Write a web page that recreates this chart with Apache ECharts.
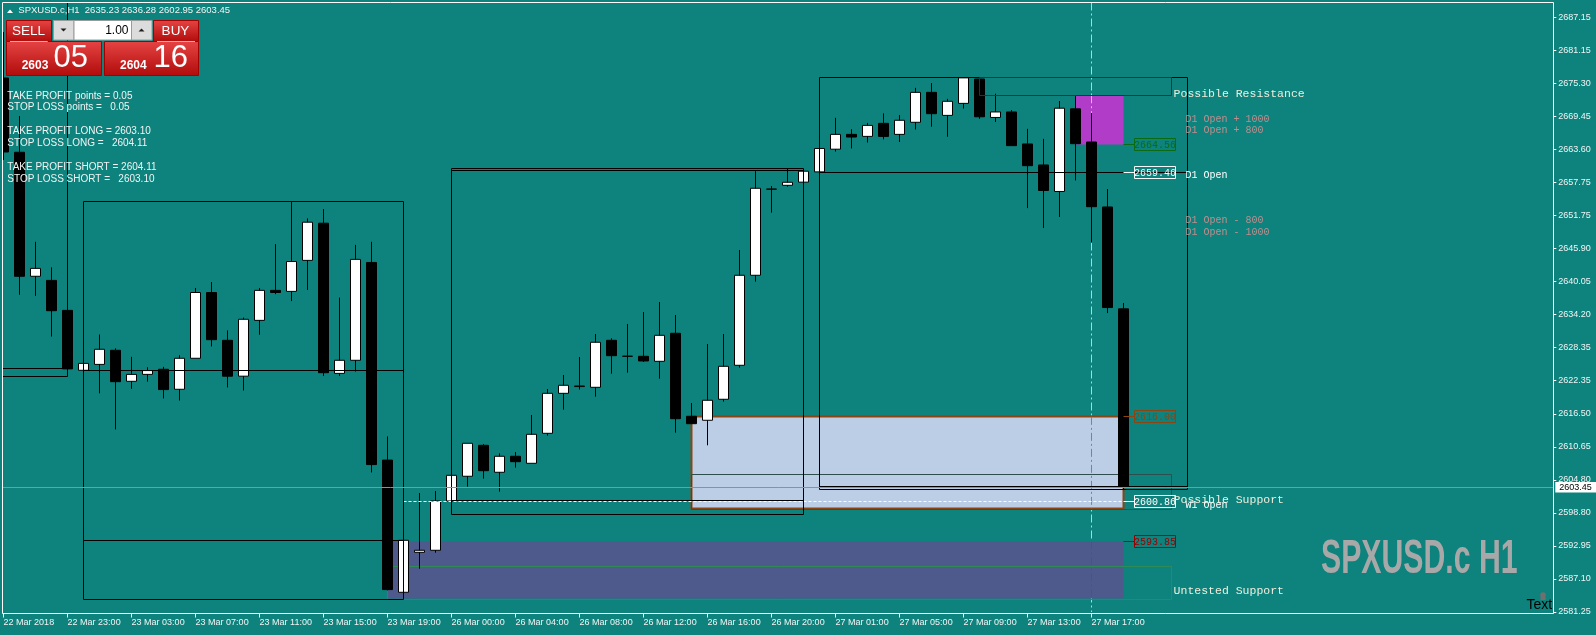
<!DOCTYPE html>
<html>
<head>
<meta charset="utf-8">
<title>SPXUSD.c H1</title>
<script src="https://cdn.jsdelivr.net/npm/echarts@6/dist/echarts.min.js"></script>
<style>
  html, body { margin: 0; padding: 0; background: #0e837d; overflow: hidden; }
  #chart { width: 1596px; height: 635px; }
</style>
</head>
<body>
<div id="chart"></div>
<script>
// ---------- data ----------
const timeLabels = ['22 Mar 2018', '22 Mar 23:00', '23 Mar 03:00', '23 Mar 07:00', '23 Mar 11:00',
  '23 Mar 15:00', '23 Mar 19:00', '26 Mar 00:00', '26 Mar 04:00', '26 Mar 08:00', '26 Mar 12:00',
  '26 Mar 16:00', '26 Mar 20:00', '27 Mar 01:00', '27 Mar 05:00', '27 Mar 09:00', '27 Mar 13:00',
  '27 Mar 17:00'];

const priceTickLabels = ['2581.25', '2587.10', '2592.95', '2598.80', '2604.80', '2610.65', '2616.50',
  '2622.35', '2628.35', '2634.20', '2640.05', '2645.90', '2651.75', '2657.75', '2663.60', '2669.45',
  '2675.30', '2681.15', '2687.15'];

// H1 bars, oldest first
const barOpen = [2676.34, 2663.11, 2641.03, 2640.30, 2634.96, 2624.29, 2625.34, 2627.85, 2622.33, 2623.56,
  2624.47, 2620.91, 2626.43, 2638.14, 2629.63, 2623.24, 2633.18, 2638.52, 2638.34, 2643.86,
  2650.48, 2623.74, 2626.07, 2643.49, 2608.30, 2584.76, 2591.88, 2592.24, 2601.02, 2605.42,
  2610.93, 2606.13, 2608.98, 2607.73, 2613.07, 2620.19, 2621.39, 2621.26, 2629.63, 2626.78,
  2626.78, 2625.89, 2630.88, 2616.10, 2615.39, 2619.13, 2625.18, 2641.21, 2656.52, 2657.23,
  2657.79, 2659.62, 2663.66, 2666.30, 2665.94, 2668.26, 2666.30, 2668.45, 2673.78, 2669.68,
  2671.82, 2676.16, 2669.31, 2670.29, 2664.59, 2660.85, 2656.13, 2670.84, 2664.94, 2653.37,
  2635.23];
const barHigh = [2684.53, 2669.56, 2647.17, 2642.63, 2635.74, 2625.52, 2630.67, 2628.21, 2626.68, 2624.84,
  2624.90, 2626.98, 2638.95, 2640.00, 2631.40, 2633.68, 2638.95, 2646.75, 2654.35, 2651.34,
  2653.00, 2637.24, 2646.62, 2647.17, 2612.52, 2594.02, 2602.44, 2602.80, 2605.59, 2611.29,
  2611.17, 2609.51, 2609.74, 2616.33, 2620.96, 2623.45, 2626.66, 2630.75, 2629.99, 2632.54,
  2634.67, 2636.45, 2634.14, 2618.47, 2628.97, 2630.75, 2645.71, 2659.73, 2657.11, 2660.26,
  2659.74, 2663.79, 2669.24, 2667.22, 2668.33, 2670.04, 2669.73, 2674.58, 2675.43, 2672.62,
  2676.52, 2676.52, 2673.54, 2670.64, 2667.28, 2665.50, 2672.24, 2673.17, 2670.11, 2656.56,
  2636.28];
const barLow = [2661.74, 2637.73, 2637.54, 2630.29, 2624.34, 2624.29, 2620.18, 2613.75, 2620.98, 2622.26,
  2619.27, 2618.90, 2626.43, 2628.53, 2621.23, 2620.68, 2630.61, 2637.84, 2636.61, 2638.59,
  2623.26, 2623.26, 2624.06, 2606.09, 2585.10, 2584.76, 2588.96, 2591.81, 2601.02, 2603.56,
  2604.99, 2602.67, 2606.95, 2607.73, 2612.64, 2617.27, 2620.84, 2619.59, 2623.68, 2623.86,
  2625.77, 2622.79, 2613.18, 2614.78, 2610.93, 2618.70, 2624.75, 2640.07, 2652.35, 2656.98,
  2657.79, 2659.62, 2663.23, 2663.79, 2664.84, 2665.39, 2664.94, 2667.15, 2667.65, 2665.87,
  2670.89, 2669.06, 2668.51, 2664.25, 2653.17, 2649.63, 2651.59, 2658.09, 2647.05, 2634.48,
  2602.95];
const barClose = [2663.16, 2641.03, 2642.44, 2634.90, 2624.54, 2625.52, 2628.03, 2622.26, 2623.56, 2624.24,
  2620.85, 2626.43, 2638.14, 2629.74, 2623.24, 2633.37, 2638.52, 2638.14, 2643.66, 2650.66,
  2623.86, 2626.07, 2644.04, 2607.50, 2585.24, 2594.02, 2592.24, 2601.02, 2605.59, 2611.29,
  2606.41, 2608.98, 2608.01, 2612.89, 2620.19, 2621.62, 2621.49, 2629.28, 2626.89, 2626.80,
  2625.95, 2630.52, 2615.67, 2614.78, 2618.95, 2625.00, 2641.21, 2656.70, 2656.57, 2657.77,
  2659.74, 2663.79, 2666.30, 2665.82, 2667.90, 2665.94, 2668.81, 2673.78, 2669.98, 2672.19,
  2676.36, 2669.43, 2670.29, 2664.29, 2660.72, 2656.31, 2670.96, 2664.64, 2653.42, 2635.46,
  2603.45];

const lastPrice = 2603.45;
const d1Open = 2659.46;
const w1Open = 2600.86;

// zones: [fromBar, toBar, low, high]
const untestedFill   = [24, 70, 2583.57, 2593.85];
const supportFill    = [43, 70, 2599.72, 2616.00];
const resistanceFill = [67, 70, 2664.56, 2673.26];
const resistanceBox  = [61, 73, 2673.26, 2676.36];
const supportBox     = [43, 73, 2599.59, 2605.77];
const untestedBox    = [24, 73, 2583.51, 2589.44];
// session ranges: [fromBar, toBar, low, high]
const rangeBoxes = [[-1, 4, 2623.13, 2695.00], [5, 25, 2583.51, 2654.35],
  [28, 50, 2598.65, 2660.26], [51, 74, 2603.10, 2676.36]];
// horizontal levels: [fromBar, toBar, price]
const rangeLines = [[-1, 4, 2624.54], [5, 25, 2624.29], [5, 25, 2594.02], [28, 50, 2659.78],
  [28, 50, 2601.02], [51, 74, 2603.56], [51, 74, d1Open]];
const w1Line = [25, 70, w1Open];
const markerBar = 68;          // 27 Mar 17:00
const tagBar = 70;
const tagLevels = [2664.56, d1Open, 2616.00, w1Open, 2593.85];
const textBar = 73;
const levelTextNames = ['Possible Resistance', 'Possible Support', 'Untested Support',
  'D1 Open + 1000', 'D1 Open + 800', 'D1 Open', 'D1 Open - 800', 'D1 Open - 1000', 'W1 Open'];
const levelTextPrices = [2673.49, 2601.19, 2584.94,
  d1Open + 10, d1Open + 8, d1Open, d1Open - 8, d1Open - 10, w1Open];

const symbolTitle = 'SPXUSD.c,H1  2635.23 2636.28 2602.95 2603.45';
const panelLines = ['TAKE PROFIT points = 0.05', 'STOP LOSS points =   0.05', '',
  'TAKE PROFIT LONG = 2603.10', 'STOP LOSS LONG =   2604.11', '',
  'TAKE PROFIT SHORT = 2604.11', 'STOP LOSS SHORT =   2603.10'];

// ---------- axis setup ----------
const PRICE_MIN = 2581.25;
const PRICE_STEP = (2687.15 - 2581.25) / 18;
const PRICE_MAX = 2689.78;
const SLOT_COUNT = 97;

// ---------- styles ----------
const BG = '#0e837d';
const TXT = '#f2f4f4';
const MONO = '"Liberation Mono", "DejaVu Sans Mono", monospace';
const SANS = '"Liberation Sans", Arial, sans-serif';
const GRID_LEFT = 3.6, BAR_STEP = 16, AXIS_X = 1553.3;
const GRID_RIGHT = 1596 - (GRID_LEFT + BAR_STEP * (SLOT_COUNT - 1));
const Y_AXIS_OFFSET = AXIS_X - (1596 - GRID_RIGHT);
const FILL_STYLES = [
  { fill: '#4e598c' },
  { fill: '#bccee6', stroke: '#8b4513', lineWidth: 2 },
  { fill: '#b03cc8' }
];
const TAG_COLORS = ['#0b6b12', '#f4f8f8', '#8b4513', '#ffffff', '#9a0000'];
const VLINE_DASH = [8, 3, 2, 3];
const LEVEL_TEXT_STYLES = levelTextNames.map((n, i) => {
  if (i < 3) return { dx: 2, dy: 0, color: '#eeeedd', font: '11.5px ' + MONO };
  if (n === 'D1 Open' || n === 'W1 Open') return { dx: 14, dy: 3, color: '#ffffff', font: '10px ' + MONO };
  return { dx: 14, dy: 3, color: '#bc8f8f', font: '10px ' + MONO };
});

const crisp = v => Math.round(v - 0.5) + 0.5;

const slots = Array.from({ length: SLOT_COUNT }, (_, i) => String(i));
const candles = barOpen.map((o, i) => [o, barClose[i], barLow[i], barHigh[i]]);
const showTime = i => i % 4 === 0 && i / 4 < timeLabels.length;

function rectOf(api) {
  const a = api.coord([api.value(0), api.value(3)]);
  const b = api.coord([api.value(1), api.value(2)]);
  const x0 = crisp(a[0]), y0 = crisp(a[1]), x1 = crisp(b[0]), y1 = crisp(b[1]);
  return { x: x0, y: y0, width: x1 - x0, height: y1 - y0 };
}
function boxSeries(data, styleFor, z) {
  return {
    type: 'custom', data, z, clip: false, silent: true,
    encode: { x: [0, 1], y: [2, 3] },
    renderItem: (params, api) => {
      const r = rectOf(api);
      const cs = params.coordSys;
      // keep inside the plot frame
      const left = Math.max(r.x, 2.5), top = Math.max(r.y, cs.y);
      return { type: 'rect', shape: { x: left, y: top, width: r.x + r.width - left, height: r.y + r.height - top },
        style: styleFor(params.dataIndex) };
    }
  };
}
function lineSeries(data, style, z) {
  return {
    type: 'custom', data, z, clip: false, silent: true,
    encode: { x: [0, 1], y: 2 },
    renderItem: (params, api) => {
      const a = api.coord([api.value(0), api.value(2)]);
      const b = api.coord([api.value(1), api.value(2)]);
      const y = crisp(a[1]);
      return { type: 'line', shape: { x1: Math.max(crisp(a[0]), 2.5), y1: y, x2: crisp(b[0]), y2: y }, style };
    }
  };
}

const chart = echarts.init(document.getElementById('chart'), null, { renderer: 'canvas' });

const redFill = () => new echarts.graphic.LinearGradient(0, 0, 0, 1, [
  { offset: 0, color: '#e64444' }, { offset: 1, color: '#b10b0b' }]);

const panel = [
  { type: 'polygon', shape: { points: [[7, 13], [13, 13], [10, 9.5]] }, style: { fill: '#ffffff' } },
  { type: 'text', style: { x: 18.3, y: 10.7, text: symbolTitle, fill: TXT, font: '9.5px ' + SANS, verticalAlign: 'middle' } },
  // sell side
  { type: 'rect', shape: { x: 6.5, y: 20.5, width: 45, height: 21 }, style: { fill: redFill(), stroke: '#a40000' } },
  { type: 'rect', shape: { x: 6.5, y: 41.5, width: 95, height: 34 }, style: { fill: redFill(), stroke: '#a40000' } },
  { type: 'line', shape: { x1: 10, y1: 41.5, x2: 47.7, y2: 41.5 }, style: { stroke: '#ffa0a0', lineWidth: 1 } },
  { type: 'text', style: { x: 28.5, y: 31, text: 'SELL', fill: '#ffffff', font: '13.5px ' + SANS, align: 'center', verticalAlign: 'middle' } },
  { type: 'text', style: { x: 21.7, y: 65.8, text: '2603', fill: '#ffffff', font: 'bold 12px ' + SANS, verticalAlign: 'middle' } },
  { type: 'text', style: { x: 53.5, y: 58.8, text: '05', fill: '#ffffff', font: '31px ' + SANS, verticalAlign: 'middle' } },
  // buy side
  { type: 'rect', shape: { x: 153.5, y: 20.5, width: 45, height: 21 }, style: { fill: redFill(), stroke: '#a40000' } },
  { type: 'rect', shape: { x: 104.5, y: 41.5, width: 94, height: 34 }, style: { fill: redFill(), stroke: '#a40000' } },
  { type: 'line', shape: { x1: 157, y1: 41.5, x2: 195, y2: 41.5 }, style: { stroke: '#ffa0a0', lineWidth: 1 } },
  { type: 'text', style: { x: 175.5, y: 31, text: 'BUY', fill: '#ffffff', font: '13.5px ' + SANS, align: 'center', verticalAlign: 'middle' } },
  { type: 'text', style: { x: 120, y: 65.8, text: '2604', fill: '#ffffff', font: 'bold 12px ' + SANS, verticalAlign: 'middle' } },
  { type: 'text', style: { x: 153.5, y: 58.8, text: '16', fill: '#ffffff', font: '31px ' + SANS, verticalAlign: 'middle' } },
  // volume control
  { type: 'rect', shape: { x: 53.5, y: 20.5, width: 20.5, height: 19.5 }, style: { fill: '#dcdcdc', stroke: '#9a9a9a' } },
  { type: 'rect', shape: { x: 74, y: 20.5, width: 57.5, height: 19.5 }, style: { fill: '#ffffff', stroke: '#9a9a9a' } },
  { type: 'rect', shape: { x: 131.5, y: 20.5, width: 20.5, height: 19.5 }, style: { fill: '#dcdcdc', stroke: '#9a9a9a' } },
  { type: 'polygon', shape: { points: [[60.5, 28.5], [66.5, 28.5], [63.5, 31.5]] }, style: { fill: '#202020' } },
  { type: 'polygon', shape: { points: [[138.5, 31.5], [144.5, 31.5], [141.5, 28.5]] }, style: { fill: '#202020' } },
  { type: 'text', style: { x: 128.5, y: 30.5, text: '1.00', fill: '#000000', font: '12px ' + SANS, align: 'right', verticalAlign: 'middle' } }
];
const panelTextY = [96, 107.7, 0, 131.7, 143.7, 0, 167.3, 179.3];
panelLines.forEach((t, i) => {
  if (!t) return;
  panel.push({ type: 'text', style: { x: 7.3, y: panelTextY[i], text: t, fill: TXT, font: '10px ' + SANS, verticalAlign: 'middle' } });
});
panel.forEach(el => { el.z = 100; el.silent = true; });

const option = {
  backgroundColor: BG,
  animation: false,
  grid: { left: GRID_LEFT, right: GRID_RIGHT, top: 2.5, bottom: 23, containLabel: false },
  xAxis: {
    type: 'category', data: slots, boundaryGap: false, offset: 1.5,
    axisLine: { show: false },
    axisTick: { show: true, interval: i => showTime(i), length: 4, lineStyle: { color: '#ffffff', width: 1 } },
    axisLabel: {
      interval: i => showTime(i), formatter: (v, i) => (showTime(i) ? timeLabels[i / 4] : ''),
      align: 'left', color: TXT, fontSize: 9, fontFamily: SANS, margin: 5
    },
    splitLine: { show: false }
  },
  yAxis: {
    type: 'value', position: 'right', offset: Y_AXIS_OFFSET, scale: true,
    min: PRICE_MIN, max: PRICE_MAX, interval: PRICE_STEP,
    axisLine: { show: false },
    axisTick: { show: true, length: 3, lineStyle: { color: '#ffffff' } },
    axisLabel: {
      color: TXT, fontSize: 9, fontFamily: SANS, margin: 5, showMaxLabel: false,
      formatter: v => {
        const k = Math.round((v - PRICE_MIN) / PRICE_STEP);
        const ok = k >= 0 && k < priceTickLabels.length && Math.abs(v - (PRICE_MIN + k * PRICE_STEP)) < 0.01;
        return ok ? priceTickLabels[k] : '';
      }
    },
    splitLine: { show: false }
  },
  series: [
    // session marker line, under the zones
    {
      type: 'custom', data: [[markerBar, lastPrice]], z: 0, clip: true, silent: true,
      encode: { x: 0, y: 1 },
      renderItem: (params, api) => {
        const x = crisp(api.coord([api.value(0), api.value(1)])[0]);
        const cs = params.coordSys;
        return { type: 'line', shape: { x1: x, y1: cs.y, x2: x, y2: cs.y + cs.height },
          style: { stroke: '#9cdede', lineWidth: 1, lineDash: VLINE_DASH } };
      }
    },
    boxSeries([untestedFill, supportFill, resistanceFill], i => FILL_STYLES[i], 1),
    // marker line where it crosses the zones
    {
      type: 'custom', data: [[markerBar, lastPrice]], z: 2, clip: true, silent: true,
      encode: { x: 0, y: 1 },
      renderItem: (params, api) => {
        const x = crisp(api.coord([api.value(0), api.value(1)])[0]);
        const tints = [[untestedFill, '#c8242a'], [supportFill, '#3f9ea0'], [resistanceFill, '#9cdede']];
        return {
          type: 'group',
          children: tints.map(([z, c]) => ({
            type: 'line',
            shape: { x1: x, y1: api.coord([0, z[3]])[1], x2: x, y2: api.coord([0, z[2]])[1] },
            style: { stroke: c, lineWidth: 1, lineDash: VLINE_DASH }
          }))
        };
      }
    },
    boxSeries([untestedBox, supportBox], i => ({ fill: 'none', stroke: i === 0 ? '#2e8b57' : '#2f4f4f', lineWidth: 1 }), 2),
    {
      type: 'candlestick', data: candles, z: 3, barWidth: 10, silent: true, clip: false,
      itemStyle: { color: '#ffffff', color0: '#000000', borderColor: '#000000', borderColor0: '#000000',
        borderColorDoji: '#000000', borderWidth: 1 }
    },
    lineSeries([w1Line], { stroke: '#ffffff', lineWidth: 1, lineDash: [3, 2] }, 4),
    boxSeries(rangeBoxes, () => ({ fill: 'none', stroke: '#000000', lineWidth: 1 }), 5),
    lineSeries(rangeLines, { stroke: '#000000', lineWidth: 1 }, 5),
    boxSeries([resistanceBox], () => ({ fill: 'none', stroke: '#3c188c', lineWidth: 1 }), 5),
    // price tags
    {
      type: 'custom', data: tagLevels.map(v => [tagBar, v]), z: 6, clip: false, silent: true,
      encode: { x: 0, y: 1 },
      renderItem: (params, api) => {
        const p = api.coord([api.value(0), api.value(1)]);
        const x = crisp(p[0]), y = crisp(p[1]);
        const c = TAG_COLORS[params.dataIndex];
        return {
          type: 'group', children: [
            { type: 'line', shape: { x1: x, y1: y, x2: x + 11, y2: y }, style: { stroke: c, lineWidth: 1 } },
            { type: 'rect', shape: { x: x + 11, y: y - 6, width: 41, height: 12 }, style: { fill: 'none', stroke: c, lineWidth: 1 } },
            { type: 'text', style: { x: x + 31.5, y: y + 0.5, text: api.value(1).toFixed(2), fill: c,
              font: '10px ' + MONO, align: 'center', verticalAlign: 'middle' } }
          ]
        };
      }
    },
    // level texts
    {
      type: 'custom', data: levelTextPrices.map(v => [textBar, v]), z: 6, clip: false, silent: true,
      encode: { x: 0, y: 1 },
      renderItem: (params, api) => {
        const p = api.coord([api.value(0), api.value(1)]);
        const s = LEVEL_TEXT_STYLES[params.dataIndex];
        return { type: 'text', style: { x: p[0] + s.dx, y: p[1] + s.dy, text: levelTextNames[params.dataIndex],
          fill: s.color, font: s.font, verticalAlign: 'middle' } };
      }
    },
    // bid line with its axis tag
    {
      type: 'custom', data: [[tagBar, lastPrice]], z: 7, clip: false, silent: true,
      encode: { x: 0, y: 1 },
      renderItem: (params, api) => {
        const y = crisp(api.coord([api.value(0), api.value(1)])[1]);
        const right = AXIS_X;
        return {
          type: 'group', children: [
            { type: 'line', shape: { x1: 3, y1: y, x2: right, y2: y }, style: { stroke: '#58a9a5', lineWidth: 1 } },
            { type: 'rect', shape: { x: right + 2, y: y - 5.5, width: 45, height: 10.5 }, style: { fill: '#ffffff' } },
            { type: 'text', style: { x: right + 6, y: y, text: api.value(1).toFixed(2), fill: '#000000',
              font: '9px ' + SANS, verticalAlign: 'middle' } }
          ]
        };
      }
    }
  ],
  graphic: [
    { type: 'rect', z: 90, silent: true, shape: { x: 0, y: 0, width: 2.5, height: 635 }, style: { fill: BG } },
    { type: 'rect', z: 95, silent: true, shape: { x: 2.5, y: 2.5, width: AXIS_X - 2.3, height: 611 }, style: { fill: 'none', stroke: '#ffffff', lineWidth: 1 } },
    { type: 'text', z: 60, silent: true, x: 1321, y: 560, scaleX: 0.63,
      style: { x: 0, y: 0, text: 'SPXUSD.c H1', fill: '#a8a8a8', font: 'bold 48px ' + SANS, verticalAlign: 'middle' } },
    { type: 'circle', z: 60, silent: true, shape: { cx: 1543, cy: 595, r: 2.8 }, style: { fill: '#707070' } },
    { type: 'rect', z: 60, silent: true, shape: { x: 1540.5, y: 597, width: 5, height: 3 }, style: { fill: '#707070' } },
    { type: 'text', z: 61, silent: true, style: { x: 1526.5, y: 605, text: 'Text', fill: '#000000', font: '14px ' + SANS, verticalAlign: 'middle' } },
    { type: 'group', z: 100, silent: true, children: panel }
  ]
};

chart.setOption(option);
</script>
</body>
</html>
